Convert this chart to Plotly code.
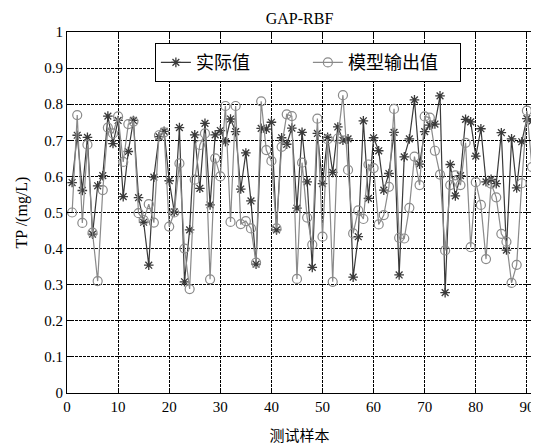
import plotly.graph_objects as go

samples = list(range(1, 92))
actual = [0.583, 0.714, 0.561, 0.708, 0.440, 0.574, 0.602, 0.767, 0.691, 0.755,
          0.544, 0.669, 0.755, 0.541, 0.473, 0.354, 0.598, 0.710, 0.725, 0.588,
          0.502, 0.735, 0.308, 0.452, 0.715, 0.567, 0.747, 0.521, 0.715, 0.727,
          0.696, 0.759, 0.724, 0.565, 0.665, 0.532, 0.357, 0.733, 0.731, 0.750,
          0.452, 0.707, 0.689, 0.734, 0.512, 0.722, 0.585, 0.348, 0.719, 0.580,
          0.708, 0.611, 0.737, 0.700, 0.704, 0.321, 0.433, 0.754, 0.539, 0.707,
          0.671, 0.562, 0.608, 0.722, 0.327, 0.654, 0.704, 0.812, 0.634, 0.724,
          0.742, 0.745, 0.823, 0.278, 0.633, 0.546, 0.602, 0.758, 0.751, 0.656,
          0.732, 0.585, 0.592, 0.580, 0.721, 0.396, 0.704, 0.568, 0.696, 0.760,
          0.753]
model = [0.500, 0.770, 0.471, 0.688, 0.444, 0.310, 0.562, 0.735, 0.719, 0.766,
         0.640, 0.745, 0.752, 0.498, 0.479, 0.523, 0.472, 0.714, 0.722, 0.461,
         0.500, 0.636, 0.400, 0.288, 0.591, 0.687, 0.719, 0.315, 0.650, 0.600,
         0.795, 0.474, 0.795, 0.468, 0.476, 0.456, 0.361, 0.808, 0.673, 0.643,
         0.456, 0.682, 0.772, 0.767, 0.316, 0.638, 0.486, 0.411, 0.760, 0.433,
         0.703, 0.308, 0.705, 0.825, 0.618, 0.442, 0.506, 0.482, 0.633, 0.623,
         0.467, 0.493, 0.571, 0.787, 0.430, 0.428, 0.513, 0.655, 0.576, 0.766,
         0.763, 0.671, 0.605, 0.395, 0.576, 0.603, 0.576, 0.693, 0.404, 0.584,
         0.521, 0.371, 0.580, 0.542, 0.441, 0.419, 0.305, 0.355, 0.581, 0.782,
         0.626]

x_ticks = [0, 10, 20, 30, 40, 50, 60, 70, 80, 90]
y_ticks = [0, 0.1, 0.2, 0.3, 0.4, 0.5, 0.6, 0.7, 0.8, 0.9, 1]
y_tick_text = ["0", "0.1", "0.2", "0.3", "0.4", "0.5", "0.6", "0.7", "0.8", "0.9", "1"]

serif = "Liberation Serif"
cjk = "Noto Sans CJK SC"

fig = go.Figure()
fig.add_trace(go.Scatter(
    x=samples, y=actual, mode="lines+markers", name="实际值",
    line=dict(color="#3a3a3a", width=1.2),
    marker=dict(symbol="asterisk-open", size=8, color="#3a3a3a",
                line=dict(color="#3a3a3a", width=1.3)),
))
fig.add_trace(go.Scatter(
    x=samples, y=model, mode="lines+markers", name="模型输出值",
    line=dict(color="#8a8a8a", width=1.2),
    marker=dict(symbol="circle-open", size=9, color="#8a8a8a",
                line=dict(color="#8a8a8a", width=1.2)),
))

axis_common = dict(
    showline=True, linecolor="black", linewidth=1, mirror="ticks",
    ticks="inside", ticklen=5, tickcolor="black",
    showgrid=True, gridcolor="black", griddash="3px,1px", gridwidth=1,
    zeroline=False, tickfont=dict(family=serif, size=15, color="black"),
    automargin=False,
)

fig.update_xaxes(range=[0, 91], tickvals=x_ticks, **axis_common,
                 title=dict(text="测试样本", font=dict(family=cjk, size=15, color="black"),
                            standoff=16))
fig.update_yaxes(range=[0, 1], tickvals=y_ticks, ticktext=y_tick_text, **axis_common,
                 title=dict(text="TP /(mg/L)", font=dict(family=serif, size=16, color="black"),
                            standoff=12))

# page body has an 8px default margin, so the figure is sized to fit within it
fig.update_layout(
    width=531, height=437,
    margin=dict(l=59, r=7, t=24, b=52),
    paper_bgcolor="white", plot_bgcolor="white",
    title=dict(text="GAP-RBF", x=0.549, xanchor="center", y=0.977, yanchor="middle",
               font=dict(family=serif, size=16, color="black")),
    showlegend=True,
    legend=dict(
        orientation="h", x=0.189, y=0.969, xanchor="left", yanchor="top",
        bgcolor="white", bordercolor="black", borderwidth=1,
        font=dict(family=cjk, size=18, color="black"),
        traceorder="normal", entrywidth=107,
    ),
)

fig.write_html("out.html")
